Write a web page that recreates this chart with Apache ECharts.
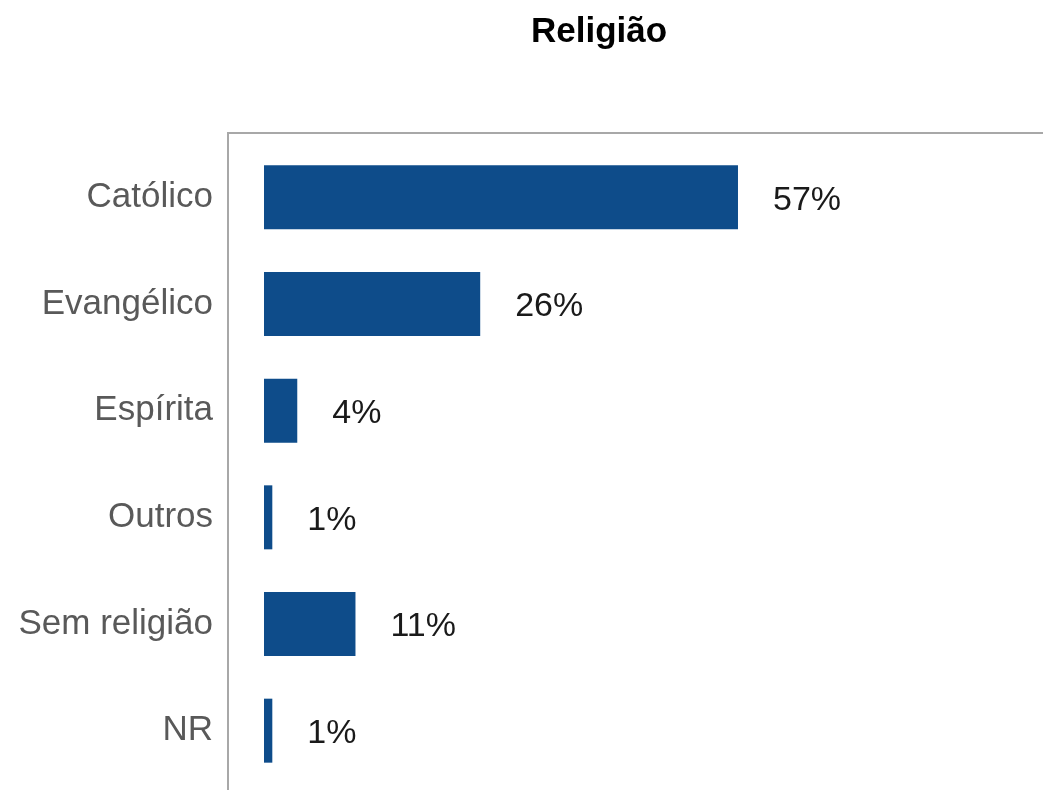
<!DOCTYPE html>
<html>
<head>
<meta charset="utf-8">
<script src="https://cdn.jsdelivr.net/npm/echarts@6/dist/echarts.min.js"></script>
<style>
html,body{margin:0;padding:0;background:#fff;}
#chart{width:1043px;height:790px;}
</style>
</head>
<body>
<div id="chart"></div>
<script>
const categories = ['Católico', 'Evangélico', 'Espírita', 'Outros', 'Sem religião', 'NR'];
const values = [57, 26, 4, 1, 11, 1];
const valueLabels = ['57%', '26%', '4%', '1%', '11%', '1%'];

const chart = echarts.init(document.getElementById('chart'));
chart.setOption({
  backgroundColor: '#ffffff',
  animation: false,
  title: {
    text: 'Religião',
    left: 526,
    top: 10,
    textStyle: { fontFamily: 'Liberation Sans, Arial, sans-serif', fontSize: 35, fontWeight: 'bold', color: '#000' }
  },
  graphic: [{
    type: 'rect',
    z: 0,
    shape: { x: 228, y: 133, width: 900, height: 700 },
    style: { fill: 'none', stroke: '#a8a8a8', lineWidth: 2 }
  }],
  grid: { left: 264, top: 144, width: 748.4, height: 640 },
  xAxis: {
    type: 'value', min: 0, max: 90,
    show: false
  },
  yAxis: {
    type: 'category',
    inverse: true,
    data: categories,
    axisLine: { show: false },
    axisTick: { show: false },
    splitLine: { show: false },
    axisLabel: {
      margin: 51,
      fontFamily: 'Liberation Sans, Arial, sans-serif',
      fontSize: 35,
      color: '#595959',
      padding: [5, 0, 0, 0]
    }
  },
  series: [{
    type: 'bar',
    data: values,
    barWidth: 64,
    itemStyle: { color: '#0E4C8A' },
    label: {
      show: true,
      position: 'right',
      distance: 35,
      offset: [0, 3],
      fontFamily: 'Liberation Sans, Arial, sans-serif',
      fontSize: 34,
      color: '#1a1a1a',
      formatter: p => valueLabels[p.dataIndex]
    }
  }]
});
</script>
</body>
</html>
